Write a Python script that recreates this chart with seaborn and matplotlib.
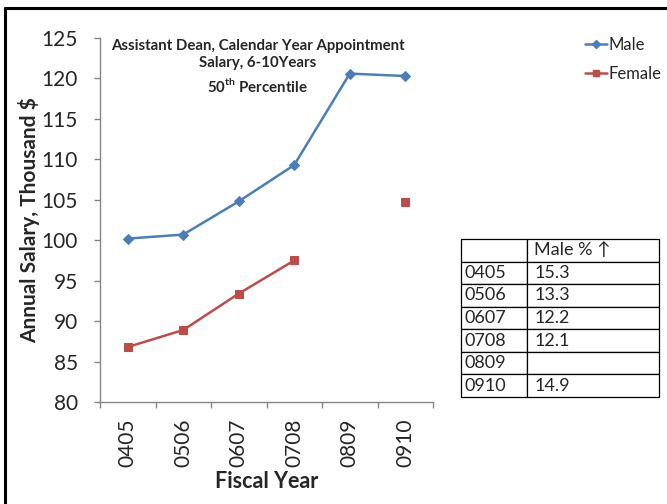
import matplotlib.pyplot as plt
import seaborn as sns
import numpy as np
import pandas as pd
from matplotlib.lines import Line2D

sns.set_theme(style="white")
plt.rcParams["font.family"] = ["Lato", "DejaVu Sans"]
plt.rcParams["mathtext.fontset"] = "custom"
plt.rcParams["mathtext.rm"] = "Lato"
plt.rcParams["mathtext.bf"] = "Lato:bold"

years = ["0405", "0506", "0607", "0708", "0809", "0910"]
male = [100.2, 100.7, 104.8, 109.3, 120.6, 120.3]
female = [86.8, 88.9, 93.4, 97.5, np.nan, 104.7]
male_pct = ["15.3", "13.3", "12.2", "12.1", "", "14.9"]

BLUE = "#4A7EBB"
RED = "#BE4B48"
GREY = "#868686"

fig = plt.figure(figsize=(6.67, 5.04), dpi=100)
ax = fig.add_axes([100 / 667, 1 - 402 / 504, 333 / 667, 364 / 504])

pos = np.arange(len(years))
df = pd.DataFrame({"pos": pos, "Male": male, "Female": female})

sns.lineplot(data=df, x="pos", y="Male", ax=ax, color=BLUE, lw=1.8,
             marker="D", markersize=5, markeredgecolor=BLUE)

# female series has a gap at 0809 -> draw each unbroken run separately
fem = df.dropna(subset=["Female"])
runs = np.split(fem, np.where(np.diff(fem["pos"]) > 1)[0] + 1)
for run in runs:
    sns.lineplot(data=run, x="pos", y="Female", ax=ax, color=RED, lw=1.8,
                 marker="s", markersize=5.5, markeredgecolor=RED)

ax.set_xlim(-0.5, len(years) - 0.5)
ax.set_ylim(80, 125)
ax.set_yticks(np.arange(80, 126, 5))
ax.set_xticks(pos)
ax.set_xticklabels(years, rotation=90, fontsize=15)
ax.set_xticks(np.arange(-0.5, len(years), 1), minor=True)
ax.tick_params(axis="x", which="major", length=0, pad=12)
ax.tick_params(axis="x", which="minor", length=4, color=GREY, width=1,
               direction="out", bottom=True)
ax.tick_params(axis="y", length=4, color=GREY, width=1, direction="out",
               left=True, pad=12, labelsize=15)
for s in ["top", "right"]:
    ax.spines[s].set_visible(False)
for s in ["left", "bottom"]:
    ax.spines[s].set_color(GREY)
    ax.spines[s].set_linewidth(1)

ax.set_xlabel("Fiscal Year", fontsize=15.5, fontweight="bold", labelpad=3)
ax.set_ylabel("Annual Salary, Thousand $", fontsize=15, fontweight="bold",
              labelpad=1)

ax.text(0.474, 0.997, "Assistant Dean, Calendar Year Appointment\nSalary, 6-10Years",
        transform=ax.transAxes, ha="center", va="top", fontsize=10.8,
        fontweight="bold", linespacing=1.3)
ax.text(0.474, 0.868, r"50$^{\mathbf{th}}$ Percentile", transform=ax.transAxes,
        ha="center", va="center", fontsize=10.8, fontweight="bold")

handles = [
    Line2D([], [], color=BLUE, lw=1.8, marker="D", markersize=4),
    Line2D([], [], color=RED, lw=1.8, marker="s", markersize=5),
]
fig.legend(handles, ["Male", "Female"], loc="upper left",
           bbox_to_anchor=(570 / 667, 1 - 22 / 504), frameon=False,
           fontsize=12, handlelength=1.3, handletextpad=0.1, labelspacing=0.8)

# side table
tax = fig.add_axes([461 / 667, 1 - 397 / 504, 198 / 667, 158 / 504])
tax.axis("off")
cells = [["", "Male % \u2191"]] + [[y, p] for y, p in zip(years, male_pct)]
tbl = tax.table(cellText=cells, bbox=[0, 0, 1, 1], cellLoc="left",
                colWidths=[0.333, 0.667])
tbl.auto_set_font_size(False)
for (r, c), cell in tbl.get_celld().items():
    cell.set_linewidth(0.9)
    cell.set_edgecolor("black")
    cell.get_text().set_fontsize(13)
    cell.PAD = 0.055

# figure frame (left and top edges visible)
fig.add_artist(Line2D([5 / 667, 5 / 667], [0, 1 - 8 / 504], color="black",
                      lw=2.2, transform=fig.transFigure))
fig.add_artist(Line2D([5 / 667, 1], [1 - 8 / 504, 1 - 8 / 504], color="black",
                      lw=2.2, transform=fig.transFigure))

fig.savefig("out.png", dpi=100)
